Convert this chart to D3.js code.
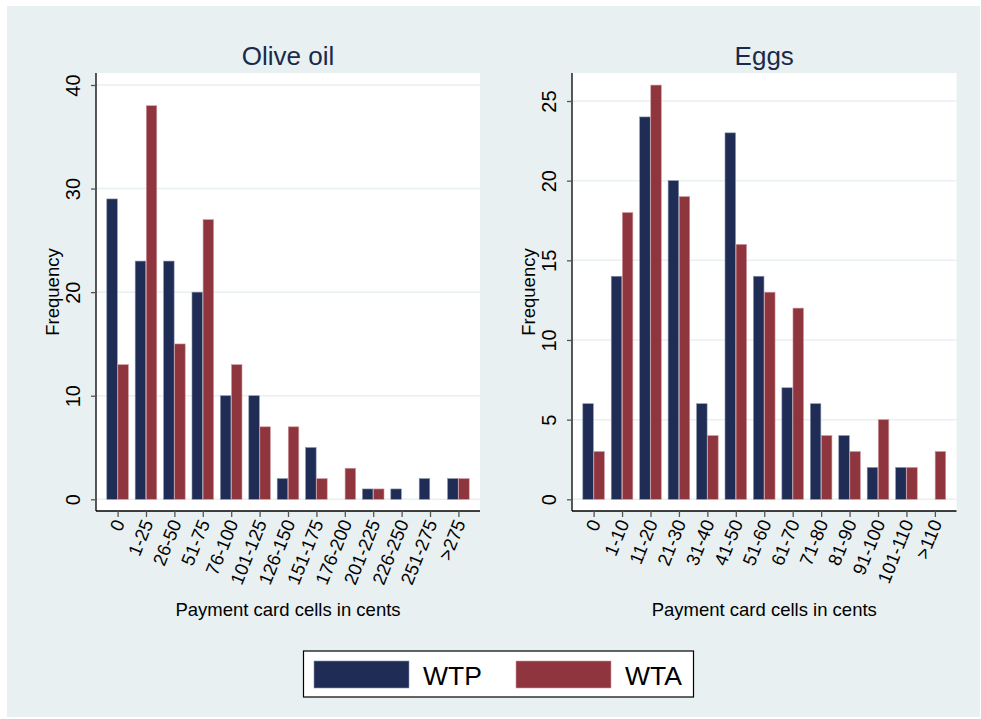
<!DOCTYPE html>
<html><head><meta charset="utf-8">
<script src="https://cdn.jsdelivr.net/npm/d3@7"></script>
<style>body{margin:0;background:#fff;} svg{display:block;font-family:"Liberation Sans",Arial,sans-serif;}</style>
</head><body>
<script>
const oliveCats = ["0","1-25","26-50","51-75","76-100","101-125","126-150","151-175","176-200","201-225","226-250","251-275",">275"];
const oliveWTP = [29,23,23,20,10,10,2,5,0,1,1,2,2];
const oliveWTA = [13,38,15,27,13,7,7,2,3,1,0,0,2];
const oliveTicks = [0,10,20,30,40];

const eggCats = ["0","1-10","11-20","21-30","31-40","41-50","51-60","61-70","71-80","81-90","91-100","101-110",">110"];
const eggWTP = [6,14,24,20,6,23,14,7,6,4,2,2,0];
const eggWTA = [3,18,26,19,4,16,13,12,4,3,5,2,3];
const eggTicks = [0,5,10,15,20,25];

const seriesNames = ["WTP","WTA"];
const colors = {WTP:"#1f2c55", WTA:"#8f353d"};
const strokes = {WTP:"#8a93ad", WTA:"#d19aa0"};

const W = 981, H = 719;
const svg = d3.select("body").append("svg").attr("width",W).attr("height",H);
svg.append("rect").attr("x",7).attr("y",6).attr("width",973).attr("height",711).attr("fill","#e8f0f2");

function panel(cfg){
  const {x0,x1,yTop,yBot,yZero,yMaxPix,maxVal,cats,wtp,wta,ticks,title} = cfg;
  const g = svg.append("g");
  g.append("rect").attr("x",x0).attr("y",yTop).attr("width",x1-x0).attr("height",yBot-yTop).attr("fill","#fff");
  const x = d3.scalePoint().domain(cats).range([x0,x1]).padding(0.76);
  const y = d3.scaleLinear().domain([0,maxVal]).range([yZero,yMaxPix]);
  const inner = d3.scaleBand().domain(seriesNames).range([-10.8,10.8]).paddingInner(0.05);
  g.selectAll(".grid").data(ticks).join("line")
    .attr("x1",x0).attr("x2",x1).attr("y1",d=>y(d)).attr("y2",d=>y(d))
    .attr("stroke","#e8f0f2").attr("stroke-width",1.5);
  const rows = cats.map((c,i)=>({c, WTP:wtp[i], WTA:wta[i]}));
  seriesNames.forEach(s=>{
    g.selectAll(".b"+s).data(rows.filter(r=>r[s]>0)).join("rect")
      .attr("x",d=>x(d.c)+inner(s)).attr("width",inner.bandwidth())
      .attr("y",d=>y(d[s])).attr("height",d=>y(0)-y(d[s]))
      .attr("fill",colors[s]).attr("stroke",strokes[s]).attr("stroke-width",0.6);
  });
  const ya = d3.axisLeft(y).tickValues(ticks).tickSize(5).tickPadding(0).tickFormat(d3.format("d"));
  const yg = g.append("g").attr("transform",`translate(${x0},0)`).call(ya);
  yg.select(".domain").attr("d",`M0,${yTop}V${yBot}`).attr("stroke","#000").attr("stroke-width",1.3);
  yg.selectAll(".tick line").attr("stroke","#555").attr("stroke-width",1.3);
  yg.selectAll(".tick text").attr("font-size",20).attr("fill","#000")
    .attr("text-anchor","middle").attr("x",0).attr("dy",0)
    .attr("transform","translate(-16,0) rotate(-90)");
  const xa = d3.axisBottom(x).tickSize(6).tickPadding(0);
  const xg = g.append("g").attr("transform",`translate(0,${yBot})`).call(xa);
  xg.select(".domain").attr("d",`M${x0},0H${x1}`).attr("stroke","#000").attr("stroke-width",1.3);
  xg.selectAll(".tick line").attr("stroke","#555").attr("stroke-width",1.3);
  xg.selectAll(".tick text").attr("font-size",18.5).attr("fill","#000")
    .attr("text-anchor","end").attr("y",0).attr("dy",0)
    .attr("transform","translate(7,12) rotate(-68)");
  const cx = (x0+x1)/2;
  g.append("text").attr("x",cx).attr("y",65).attr("text-anchor","middle").attr("font-size",26).attr("fill","#1a2a4a").text(title);
  g.append("text").attr("x",cx).attr("y",616).attr("text-anchor","middle").attr("font-size",18.5).attr("fill","#000").text("Payment card cells in cents");
  g.append("text").attr("transform",`translate(${x0-37},${(yTop+yBot)/2}) rotate(-90)`).attr("text-anchor","middle").attr("font-size",18.5).attr("fill","#000").text("Frequency");
}

panel({x0:96,x1:480,yTop:73,yBot:511,yZero:499.3,yMaxPix:85,maxVal:40,cats:oliveCats,wtp:oliveWTP,wta:oliveWTA,ticks:oliveTicks,title:"Olive oil"});
panel({x0:572,x1:956.5,yTop:73,yBot:511,yZero:499.3,yMaxPix:101,maxVal:25,cats:eggCats,wtp:eggWTP,wta:eggWTA,ticks:eggTicks,title:"Eggs"});

const lg = svg.append("g");
lg.append("rect").attr("x",303.5).attr("y",651).attr("width",390).attr("height",46).attr("fill","#fff").attr("stroke","#000").attr("stroke-width",1.2);
const legX = [314,516];
seriesNames.forEach((s,i)=>{
  lg.append("rect").attr("x",legX[i]).attr("y",661).attr("width",95).attr("height",27).attr("fill",colors[s]).attr("stroke",strokes[s]).attr("stroke-width",0.6);
  lg.append("text").attr("x",legX[i]+109).attr("y",685).attr("font-size",26.5).attr("fill","#000").text(s);
});
</script>
</body></html>
